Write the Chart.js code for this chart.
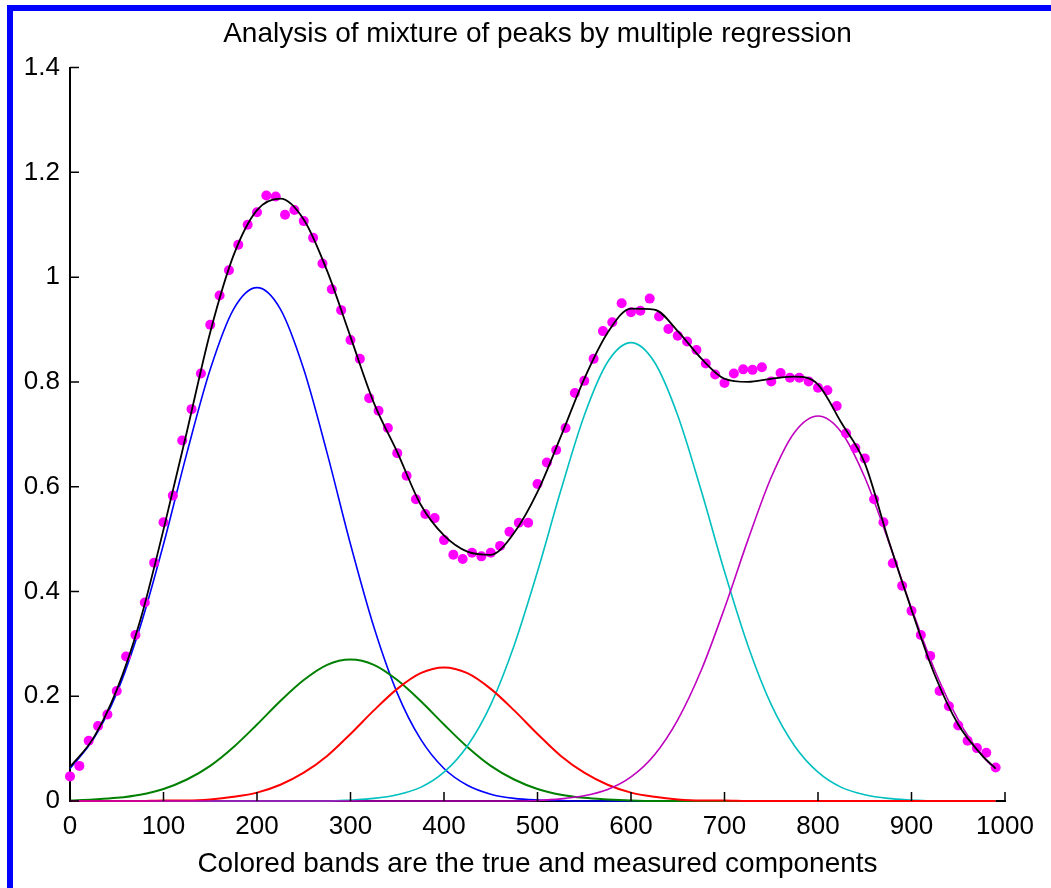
<!DOCTYPE html>
<html>
<head>
<meta charset="utf-8">
<script src="https://cdn.jsdelivr.net/npm/chart.js@4"></script>
<style>
  html, body { margin: 0; padding: 0; background: #fff; }
  #wrap { position: relative; width: 1051px; height: 888px; overflow: hidden; }
  #frame {
    position: absolute; left: 7px; top: 5px; right: 0; bottom: 0;
    border-top: 6px solid #0000ff; border-left: 6px solid #0000ff;
    pointer-events: none;
  }
</style>
</head>
<body>
<div id="wrap">
  <canvas id="grafico" width="1051" height="888"></canvas>
  <div id="frame"></div>
</div>
<script>
// x positions of the smooth curves
const curveX = [0,25,50,75,100,125,150,175,200,225,250,275,300,325,350,375,400,425,450,475,500,525,550,575,600,625,650,675,700,725,750,775,800,825,850,875,900,925,950,975,990]

const fitTotal = [0.065,0.120,0.212,0.344,0.518,0.705,0.895,1.042,1.128,1.150,1.110,1.012,0.886,0.760,0.666,0.566,0.507,0.476,0.470,0.512,0.590,0.696,0.806,0.894,0.940,0.938,0.897,0.845,0.806,0.800,0.806,0.810,0.795,0.722,0.645,0.500,0.365,0.240,0.146,0.088,0.062]
const peakBlue = [0.062,0.118,0.206,0.332,0.490,0.664,0.824,0.939,0.980,0.939,0.824,0.664,0.490,0.332,0.206,0.118,0.062,0.030,0.013,0.005,0.002,0.001,0,0,0,0,0,0,0,0,0,0,0,0,0,0,0,0,0,0,0]
const peakGreen = [0.001,0.003,0.006,0.012,0.023,0.041,0.067,0.103,0.146,0.191,0.231,0.260,0.270,0.260,0.231,0.191,0.146,0.103,0.067,0.041,0.023,0.012,0.006,0.003,0.001,0,0,0,0,0,0,0,0,0,0,0,0,0,0,0,0]
const peakRed = [0,0,0,0,0.001,0.001,0.003,0.008,0.016,0.031,0.054,0.086,0.128,0.173,0.214,0.244,0.255,0.244,0.214,0.173,0.128,0.086,0.054,0.031,0.016,0.008,0.003,0.001,0.001,0,0,0,0,0,0,0,0,0,0,0,0]
const peakCyan = [0,0,0,0,0,0,0,0,0,0,0,0,0.002,0.005,0.012,0.026,0.055,0.105,0.184,0.297,0.438,0.593,0.736,0.838,0.875,0.838,0.736,0.593,0.438,0.297,0.184,0.105,0.055,0.026,0.012,0.005,0.002,0,0,0,0]
const peakMagenta = [0,0,0,0,0,0,0,0,0,0,0,0,0,0,0,0,0,0,0,0,0.001,0.004,0.010,0.022,0.046,0.088,0.155,0.249,0.368,0.498,0.618,0.704,0.735,0.704,0.618,0.498,0.368,0.249,0.155,0.088,0.060]

// measured points
const puntosX = [0,10,20,30,40,50,60,70,80,90,100,110,120,130,140,150,160,170,180,190,200,210,220,230,240,250,260,270,280,290,300,310,320,330,340,350,360,370,380,390,400,410,420,430,440,450,460,470,480,490,500,510,520,530,540,550,560,570,580,590,600,610,620,630,640,650,660,670,680,690,700,710,720,730,740,750,760,770,780,790,800,810,820,830,840,850,860,870,880,890,900,910,920,930,940,950,960,970,980,990]
const puntosY = [0.047,0.067,0.115,0.143,0.165,0.210,0.276,0.317,0.379,0.455,0.532,0.583,0.688,0.748,0.816,0.909,0.965,1.013,1.062,1.100,1.124,1.156,1.154,1.119,1.128,1.107,1.075,1.026,0.977,0.937,0.880,0.844,0.769,0.745,0.712,0.664,0.621,0.576,0.548,0.540,0.498,0.470,0.462,0.474,0.467,0.474,0.487,0.514,0.531,0.531,0.605,0.646,0.670,0.712,0.779,0.802,0.844,0.897,0.914,0.950,0.933,0.936,0.959,0.925,0.901,0.888,0.877,0.861,0.835,0.814,0.798,0.816,0.824,0.823,0.828,0.801,0.817,0.808,0.808,0.801,0.789,0.784,0.754,0.702,0.674,0.654,0.576,0.532,0.454,0.411,0.363,0.317,0.277,0.210,0.181,0.144,0.115,0.101,0.092,0.064]

const xTicks = [0,100,200,300,400,500,600,700,800,900,1000]
const yTicks = [0,0.2,0.4,0.6,0.8,1,1.2,1.4]
const yTickLabels = ["0","0.2","0.4","0.6","0.8","1","1.2","1.4"]

const pares = (xs, ys) => xs.map((x, i) => ({ x: x, y: ys[i] }))
const fuente = "'Liberation Sans', Arial, sans-serif"

const linea = (datos, color, ancho, orden) => ({
  data: pares(curveX, datos),
  showLine: true,
  borderColor: color,
  borderWidth: ancho,
  pointRadius: 0,
  cubicInterpolationMode: "monotone",
  clip: false,
  order: orden,
})

// MATLAB style ticks pointing into the plot
const ticksInternos = {
  id: "ticksInternos",
  afterDatasetsDraw(chart) {
    const { ctx, chartArea, scales } = chart
    ctx.save()
    ctx.strokeStyle = "#000"
    ctx.lineWidth = 1.5
    ctx.beginPath()
    scales.x.ticks.forEach((t) => {
      const px = scales.x.getPixelForValue(t.value)
      ctx.moveTo(px, chartArea.bottom)
      ctx.lineTo(px, chartArea.bottom - 9)
    })
    scales.y.ticks.forEach((t) => {
      const py = scales.y.getPixelForValue(t.value)
      ctx.moveTo(chartArea.left, py)
      ctx.lineTo(chartArea.left + 9, py)
    })
    ctx.stroke()
    ctx.restore()
  },
}

const lienzo = document.getElementById("grafico")

new Chart(lienzo, {
  type: "scatter",
  data: {
    datasets: [
      linea(fitTotal, "#000000", 1.8, 0),
      {
        data: pares(puntosX, puntosY),
        backgroundColor: "#ff00ff",
        borderWidth: 0,
        pointRadius: 5,
        pointHoverRadius: 5,
        clip: false,
        order: 1,
      },
      linea(peakMagenta, "#bf00bf", 1.6, 2),
      linea(peakRed, "#ff0000", 2, 3),
      linea(peakCyan, "#00bfbf", 1.6, 4),
      linea(peakGreen, "#008000", 2, 5),
      linea(peakBlue, "#0000ff", 1.6, 6),
    ],
  },
  options: {
    responsive: false,
    animation: false,
    devicePixelRatio: 1,
    layout: { padding: { left: 17, right: 46, top: 0, bottom: 0 } },
    plugins: {
      legend: { display: false },
      tooltip: { enabled: false },
      title: {
        display: true,
        fullSize: false,
        text: "Analysis of mixture of peaks by multiple regression",
        color: "#000",
        font: { family: fuente, size: 28, weight: "normal", lineHeight: 1.2 },
        padding: { top: 17, bottom: 17 },
      },
    },
    scales: {
      x: {
        type: "linear",
        min: 0,
        max: 1000,
        afterBuildTicks: (scale) => { scale.ticks = xTicks.map((v) => ({ value: v })) },
        afterFit: (scale) => { scale.height = 87 },
        grid: { display: false, drawTicks: false },
        border: { display: true, color: "#000", width: 2 },
        ticks: {
          color: "#000",
          padding: 10,
          maxRotation: 0,
          font: { family: fuente, size: 26, lineHeight: 1.2 },
          callback: (v) => String(v),
        },
        title: {
          display: true,
          text: "Colored bands are the true and measured components",
          color: "#000",
          font: { family: fuente, size: 28, weight: "normal", lineHeight: 1.2 },
          padding: { top: 0, bottom: 7 },
        },
      },
      y: {
        type: "linear",
        min: 0,
        max: 1.4,
        afterBuildTicks: (scale) => { scale.ticks = yTicks.map((v) => ({ value: v })) },
        afterFit: (scale) => { scale.width = 53 },
        grid: { display: false, drawTicks: false },
        border: { display: true, color: "#000", width: 2 },
        ticks: {
          color: "#000",
          padding: 10,
          font: { family: fuente, size: 26, lineHeight: 1.2 },
          callback: (v) => {
            const i = yTicks.findIndex((t) => Math.abs(t - v) < 1e-9)
            return i >= 0 ? yTickLabels[i] : ""
          },
        },
      },
    },
  },
  plugins: [ticksInternos],
})
</script>
</body>
</html>
